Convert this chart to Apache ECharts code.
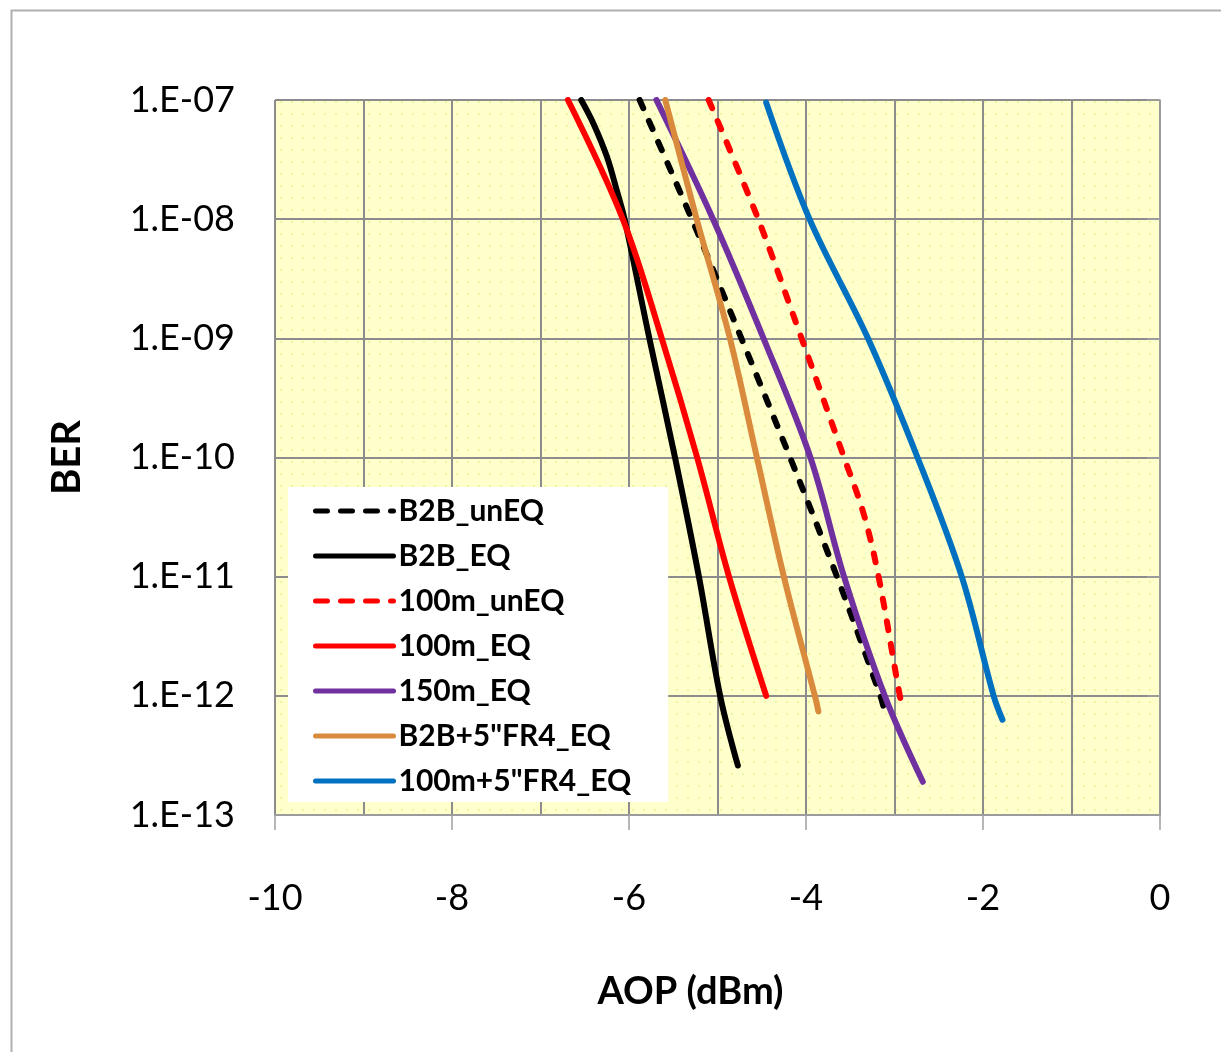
<!DOCTYPE html>
<html>
<head>
<meta charset="utf-8">
<title>BER vs AOP</title>
<script src="https://cdn.jsdelivr.net/npm/echarts@6/dist/echarts.min.js"></script>
<style>
  html, body { margin: 0; padding: 0; background: #ffffff; }
  #chart { width: 1221px; height: 1052px; }
</style>
</head>
<body>
<div id="chart"></div>
<script>
// Series names (legend order)
const seriesNames = ['B2B_unEQ', 'B2B_EQ', '100m_unEQ', '100m_EQ', '150m_EQ', 'B2B+5"FR4_EQ', '100m+5"FR4_EQ'];

// Measured curves: received optical power (dBm) and bit error ratio
const b2bUnEqAop = [-5.88, -5.29, -4.73, -4.18, -3.65, -3.16, -3.11];
const b2bUnEqBer = [1e-7, 1e-8, 1e-9, 1e-10, 1e-11, 1e-12, 7.4e-13];

const b2bEqAop = [-6.54, -6.40, -6.25, -6.14, -6.05, -5.77, -5.48, -5.21, -4.97, -4.77];
const b2bEqBer = [1e-7, 6.3e-8, 3.35e-8, 1.76e-8, 1e-8, 1e-9, 1e-10, 1e-11, 1e-12, 2.6e-13];

const m100UnEqAop = [-5.10, -4.54, -4.05, -3.57, -3.35, -3.18, -2.94, -2.90];
const m100UnEqBer = [1e-7, 1e-8, 1e-9, 1e-10, 3.4e-11, 1e-11, 1e-12, 7.4e-13];

const m100EqAop = [-6.69, -6.07, -5.63, -5.23, -4.87, -4.45];
const m100EqBer = [1e-7, 1e-8, 1e-9, 1e-10, 1e-11, 1e-12];

const m150EqAop = [-5.69, -5.05, -4.48, -3.95, -3.57, -3.11, -2.68];
const m150EqBer = [1e-7, 1e-8, 1e-9, 1e-10, 1e-11, 1e-12, 1.9e-13];

const b2bFr4EqAop = [-5.59, -5.235, -4.86, -4.555, -4.25, -3.90, -3.86];
const b2bFr4EqBer = [1e-7, 1e-8, 1e-9, 1e-10, 1e-11, 1e-12, 7.4e-13];

const m100Fr4EqAop = [-4.45, -3.96, -3.30, -2.74, -2.24, -1.88, -1.78];
const m100Fr4EqBer = [9.5e-8, 1e-8, 1e-9, 1e-10, 1e-11, 1e-12, 6.3e-13];

// Axis ticks
const xTicks = [-10, -8, -6, -4, -2, 0];
const yTickExponents = [-13, -12, -11, -10, -9, -8, -7];

const curves = [
  { aop: b2bUnEqAop, ber: b2bUnEqBer, color: '#000000', dashed: true },
  { aop: b2bEqAop, ber: b2bEqBer, color: '#000000', dashed: false },
  { aop: m100UnEqAop, ber: m100UnEqBer, color: '#FF0000', dashed: true },
  { aop: m100EqAop, ber: m100EqBer, color: '#FF0000', dashed: false },
  { aop: m150EqAop, ber: m150EqBer, color: '#7030A0', dashed: false },
  { aop: b2bFr4EqAop, ber: b2bFr4EqBer, color: '#D98A3D', dashed: false },
  { aop: m100Fr4EqAop, ber: m100Fr4EqBer, color: '#0070C0', dashed: false }
];

// Dotted plot-area fill
function dotPattern() {
  const c = document.createElement('canvas');
  c.width = 11; c.height = 12;
  const g = c.getContext('2d');
  g.fillStyle = '#FFFFCC';
  g.fillRect(0, 0, 11, 12);
  g.fillStyle = '#EEF5A2';
  g.fillRect(5, 5, 2, 2);
  return c;
}

const gridColor = '#8C8C8C';
const axisColor = '#A0A0A0';
const font = 'Lato, "Open Sans", sans-serif';
const legendLineWidth = 5;
const curveWidth = 6;

const chart = echarts.init(document.getElementById('chart'), null, { renderer: 'canvas' });

chart.setOption({
  backgroundColor: '#ffffff',
  animation: false,
  graphic: [{
    type: 'rect',
    left: 9, top: 8, z: -10,
    shape: { width: 1300, height: 1100 },
    style: { fill: 'none', stroke: '#B0B0B0', lineWidth: 2 }
  }],
  grid: {
    left: 275, right: 61, top: 100, bottom: 237,
    show: true,
    borderWidth: 0,
    backgroundColor: { image: dotPattern(), repeat: 'repeat' }
  },
  legend: {
    orient: 'vertical',
    left: 288, top: 487,
    backgroundColor: '#ffffff',
    padding: [9, 37, 6, 25],
    itemWidth: 78, itemHeight: 14, itemGap: 15,
    itemStyle: { opacity: 0 },
    lineStyle: { width: legendLineWidth, cap: 'round' },
    textStyle: { fontFamily: font, fontWeight: 'bold', fontSize: 30, lineHeight: 28, color: '#000' },
    data: seriesNames.map(function (name, i) {
      return curves[i].dashed
        ? { name: name, lineStyle: { width: legendLineWidth, type: [12, 13], cap: 'round' } }
        : { name: name };
    })
  },
  xAxis: {
    type: 'value',
    min: xTicks[0], max: xTicks[xTicks.length - 1], interval: 2,
    name: 'AOP (dBm)',
    nameLocation: 'middle',
    nameGap: 158,
    nameTextStyle: { fontFamily: font, fontWeight: 'bold', fontSize: 38, color: '#000', padding: [0, 54, 0, 0] },
    axisLine: { show: true, onZero: false, lineStyle: { color: axisColor, width: 1.5 } },
    axisTick: { show: true, length: 15, lineStyle: { color: axisColor, width: 1.5 } },
    minorTick: { show: false, splitNumber: 2 },
    axisLabel: { fontFamily: font, fontSize: 36, color: '#000', margin: 65 },
    splitLine: { show: true, lineStyle: { color: gridColor, width: 2 } },
    minorSplitLine: { show: true, lineStyle: { color: gridColor, width: 2 } }
  },
  yAxis: {
    type: 'log', logBase: 10,
    min: Math.pow(10, yTickExponents[0]),
    max: Math.pow(10, yTickExponents[yTickExponents.length - 1]),
    splitNumber: 6,
    name: 'BER',
    nameLocation: 'middle',
    nameGap: 188,
    nameRotate: 90,
    nameTextStyle: { fontFamily: font, fontWeight: 'bold', fontSize: 40, color: '#000' },
    axisLine: { show: true, lineStyle: { color: axisColor, width: 1.5 } },
    axisTick: { show: true, length: 13, lineStyle: { color: axisColor, width: 1.5 } },
    axisLabel: {
      fontFamily: font, fontSize: 36, color: '#000', margin: 40,
      formatter: function (v) {
        const e = Math.round(Math.log10(v));
        return '1.E-' + String(-e).padStart(2, '0');
      }
    },
    splitLine: { show: true, lineStyle: { color: gridColor, width: 2 } }
  },
  series: curves.map(function (c, i) {
    return {
      name: seriesNames[i],
      type: 'line',
      symbol: 'none',
      smooth: 0.35,
      clip: true,
      color: c.color,
      lineStyle: {
        color: c.color,
        width: curveWidth,
        type: c.dashed ? [9, 14] : 'solid',
        cap: 'round',
        join: 'round'
      },
      emphasis: { disabled: true },
      data: c.aop.map(function (x, k) { return [x, c.ber[k]]; })
    };
  })
});
</script>
</body>
</html>
